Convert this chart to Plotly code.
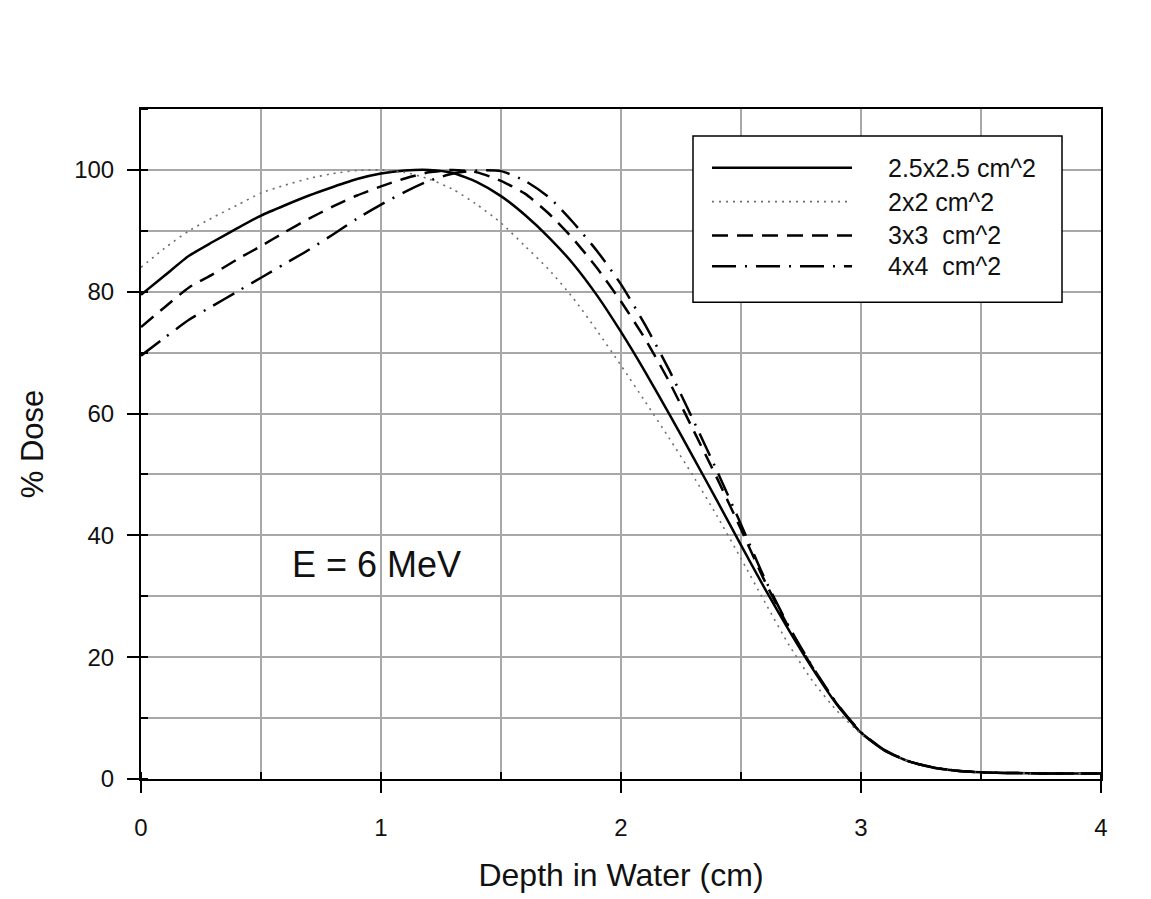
import plotly.graph_objects as go

# ---- data ----
depth = [0.0, 0.1, 0.2, 0.3, 0.4, 0.5, 0.6, 0.7, 0.8, 0.9,
         1.0, 1.1, 1.2, 1.3, 1.4, 1.5, 1.6, 1.7, 1.8, 1.9,
         2.0, 2.1, 2.2, 2.3, 2.4, 2.5, 2.6, 2.7, 2.8, 2.9,
         3.0, 3.1, 3.2, 3.3, 3.4, 3.5, 3.6, 3.7, 3.8, 3.9, 4.0]

dose_25 = [79.5, 82.7, 85.9, 88.2, 90.4, 92.5, 94.2, 95.8, 97.2, 98.5,
           99.4, 99.9, 100.0, 99.5, 98.0, 95.7, 92.6, 88.9, 84.6, 79.4,
           73.4, 66.9, 60.0, 52.9, 45.7, 38.4, 31.2, 24.4, 18.0, 12.2,
           7.6, 4.6, 2.9, 1.9, 1.35, 1.1, 1.0, 0.95, 0.9, 0.9, 0.9]

dose_2 = [84.0, 87.2, 90.0, 92.2, 94.2, 96.2, 97.5, 98.6, 99.4, 99.9,
          100.0, 99.6, 98.5, 96.8, 94.3, 91.3, 87.5, 83.6, 79.0, 73.6,
          67.9, 62.0, 56.0, 49.8, 43.2, 36.2, 29.0, 22.0, 16.0, 11.2,
          7.4, 4.6, 2.9, 1.9, 1.35, 1.1, 1.0, 0.95, 0.9, 0.9, 0.9]

dose_3 = [74.2, 77.5, 80.7, 82.9, 85.3, 87.5, 89.8, 92.0, 94.0, 95.8,
          97.3, 98.6, 99.6, 100.0, 99.6, 98.2, 96.1, 92.8, 88.7, 83.9,
          78.4, 72.3, 65.3, 57.4, 49.4, 41.0, 32.4, 24.8, 18.2, 12.3,
          7.6, 4.7, 2.9, 1.9, 1.35, 1.1, 1.0, 0.95, 0.9, 0.9, 0.9]

dose_4 = [69.5, 72.5, 75.4, 77.7, 80.0, 82.3, 84.6, 86.9, 89.4, 92.0,
          94.3, 96.4, 98.2, 99.4, 99.9, 99.8, 98.2, 95.5, 91.4, 86.7,
          81.2, 74.6, 67.2, 59.0, 50.6, 41.8, 32.8, 25.0, 18.3, 12.4,
          7.7, 4.7, 2.9, 1.9, 1.35, 1.1, 1.0, 0.95, 0.9, 0.9, 0.9]

series_names = ["2.5x2.5 cm^2", "2x2 cm^2", "3x3  cm^2", "4x4  cm^2"]
x_title = "Depth in Water (cm)"
y_title = "% Dose"
energy_label = "E = 6 MeV"

FONT = "Liberation Sans, Arial, sans-serif"
styles = [
    dict(color="black", width=2.5, dash="solid"),
    dict(color="#6e6e6e", width=1.6, dash="2px,5px"),
    dict(color="black", width=2.5, dash="16px,9px"),
    dict(color="black", width=2.5, dash="24px,9px,2px,9px"),
]

fig = go.Figure()
for ys, name, st in zip([dose_25, dose_2, dose_3, dose_4], series_names, styles):
    fig.add_trace(go.Scatter(x=depth, y=ys, mode="lines", name=name, showlegend=False,
                             line=dict(shape="spline", smoothing=0.6, **st)))

# ---- geometry (page pixels; page body has an 8px margin) ----
OFF = 8
W, H = 1151 - OFF, 899 - OFF
L, R, T, B = 141 - OFF, 1101 - OFF, 109 - OFF, 782 - OFF

def px(xp):
    return (xp - OFF - L) / (R - L)

def py(yp):
    return (B - (yp - OFF)) / (B - T)

# ---- custom legend box (layout only) ----
shapes = [dict(type="rect", xref="paper", yref="paper", x0=px(693), x1=px(1062), y0=py(303), y1=py(136),
               line=dict(color="black", width=1.5), fillcolor="white", layer="above")]
annotations = []
rows = [168, 202, 236, 267]
for r, name, st in zip(rows, series_names, styles):
    shapes.append(dict(type="line", xref="paper", yref="paper", x0=px(712), x1=px(852), y0=py(r), y1=py(r),
                       line=dict(color=st["color"], width=st["width"], dash=st["dash"]), layer="above"))
    annotations.append(dict(xref="paper", yref="paper", x=px(886), y=py(r), text=name, showarrow=False,
                            xanchor="left", yanchor="middle", font=dict(family=FONT, size=25, color="#111")))

annotations.append(dict(xref="x", yref="y", x=0.98, y=35.2, text=energy_label, showarrow=False,
                        xanchor="center", yanchor="middle", font=dict(family=FONT, size=36, color="#111")))

grid = "#a8a8a8"
axis_common = dict(showline=True, linecolor="black", linewidth=2, mirror=True,
                   ticks="outside", ticklen=12, tickwidth=2, tickcolor="black",
                   showgrid=True, gridcolor=grid, gridwidth=1.6, zeroline=False,
                   tickfont=dict(family=FONT, size=24, color="#111"))

fig.update_layout(
    width=W, height=H,
    margin=dict(l=L, r=W - R, t=T, b=H - B),
    paper_bgcolor="white", plot_bgcolor="white",
    font=dict(family=FONT, color="#111"),
    shapes=shapes, annotations=annotations,
    xaxis=dict(range=[0, 4], tick0=0, dtick=1, ticklabelstandoff=14,
               title=dict(text=x_title, font=dict(family=FONT, size=32, color="#111"), standoff=24),
               minor=dict(dtick=0.5, ticks="inside", ticklen=7, tickcolor="black", tickwidth=1.5,
                          showgrid=True, gridcolor=grid, gridwidth=1.6),
               **axis_common),
    yaxis=dict(range=[0, 110], tick0=0, dtick=20, ticklabelstandoff=8,
               title=dict(text=y_title, font=dict(family=FONT, size=31, color="#111"), standoff=21),
               minor=dict(dtick=10, ticks="inside", ticklen=7, tickcolor="black", tickwidth=1.5,
                          showgrid=True, gridcolor=grid, gridwidth=1.6),
               **axis_common),
)

fig.write_html("out.html")
